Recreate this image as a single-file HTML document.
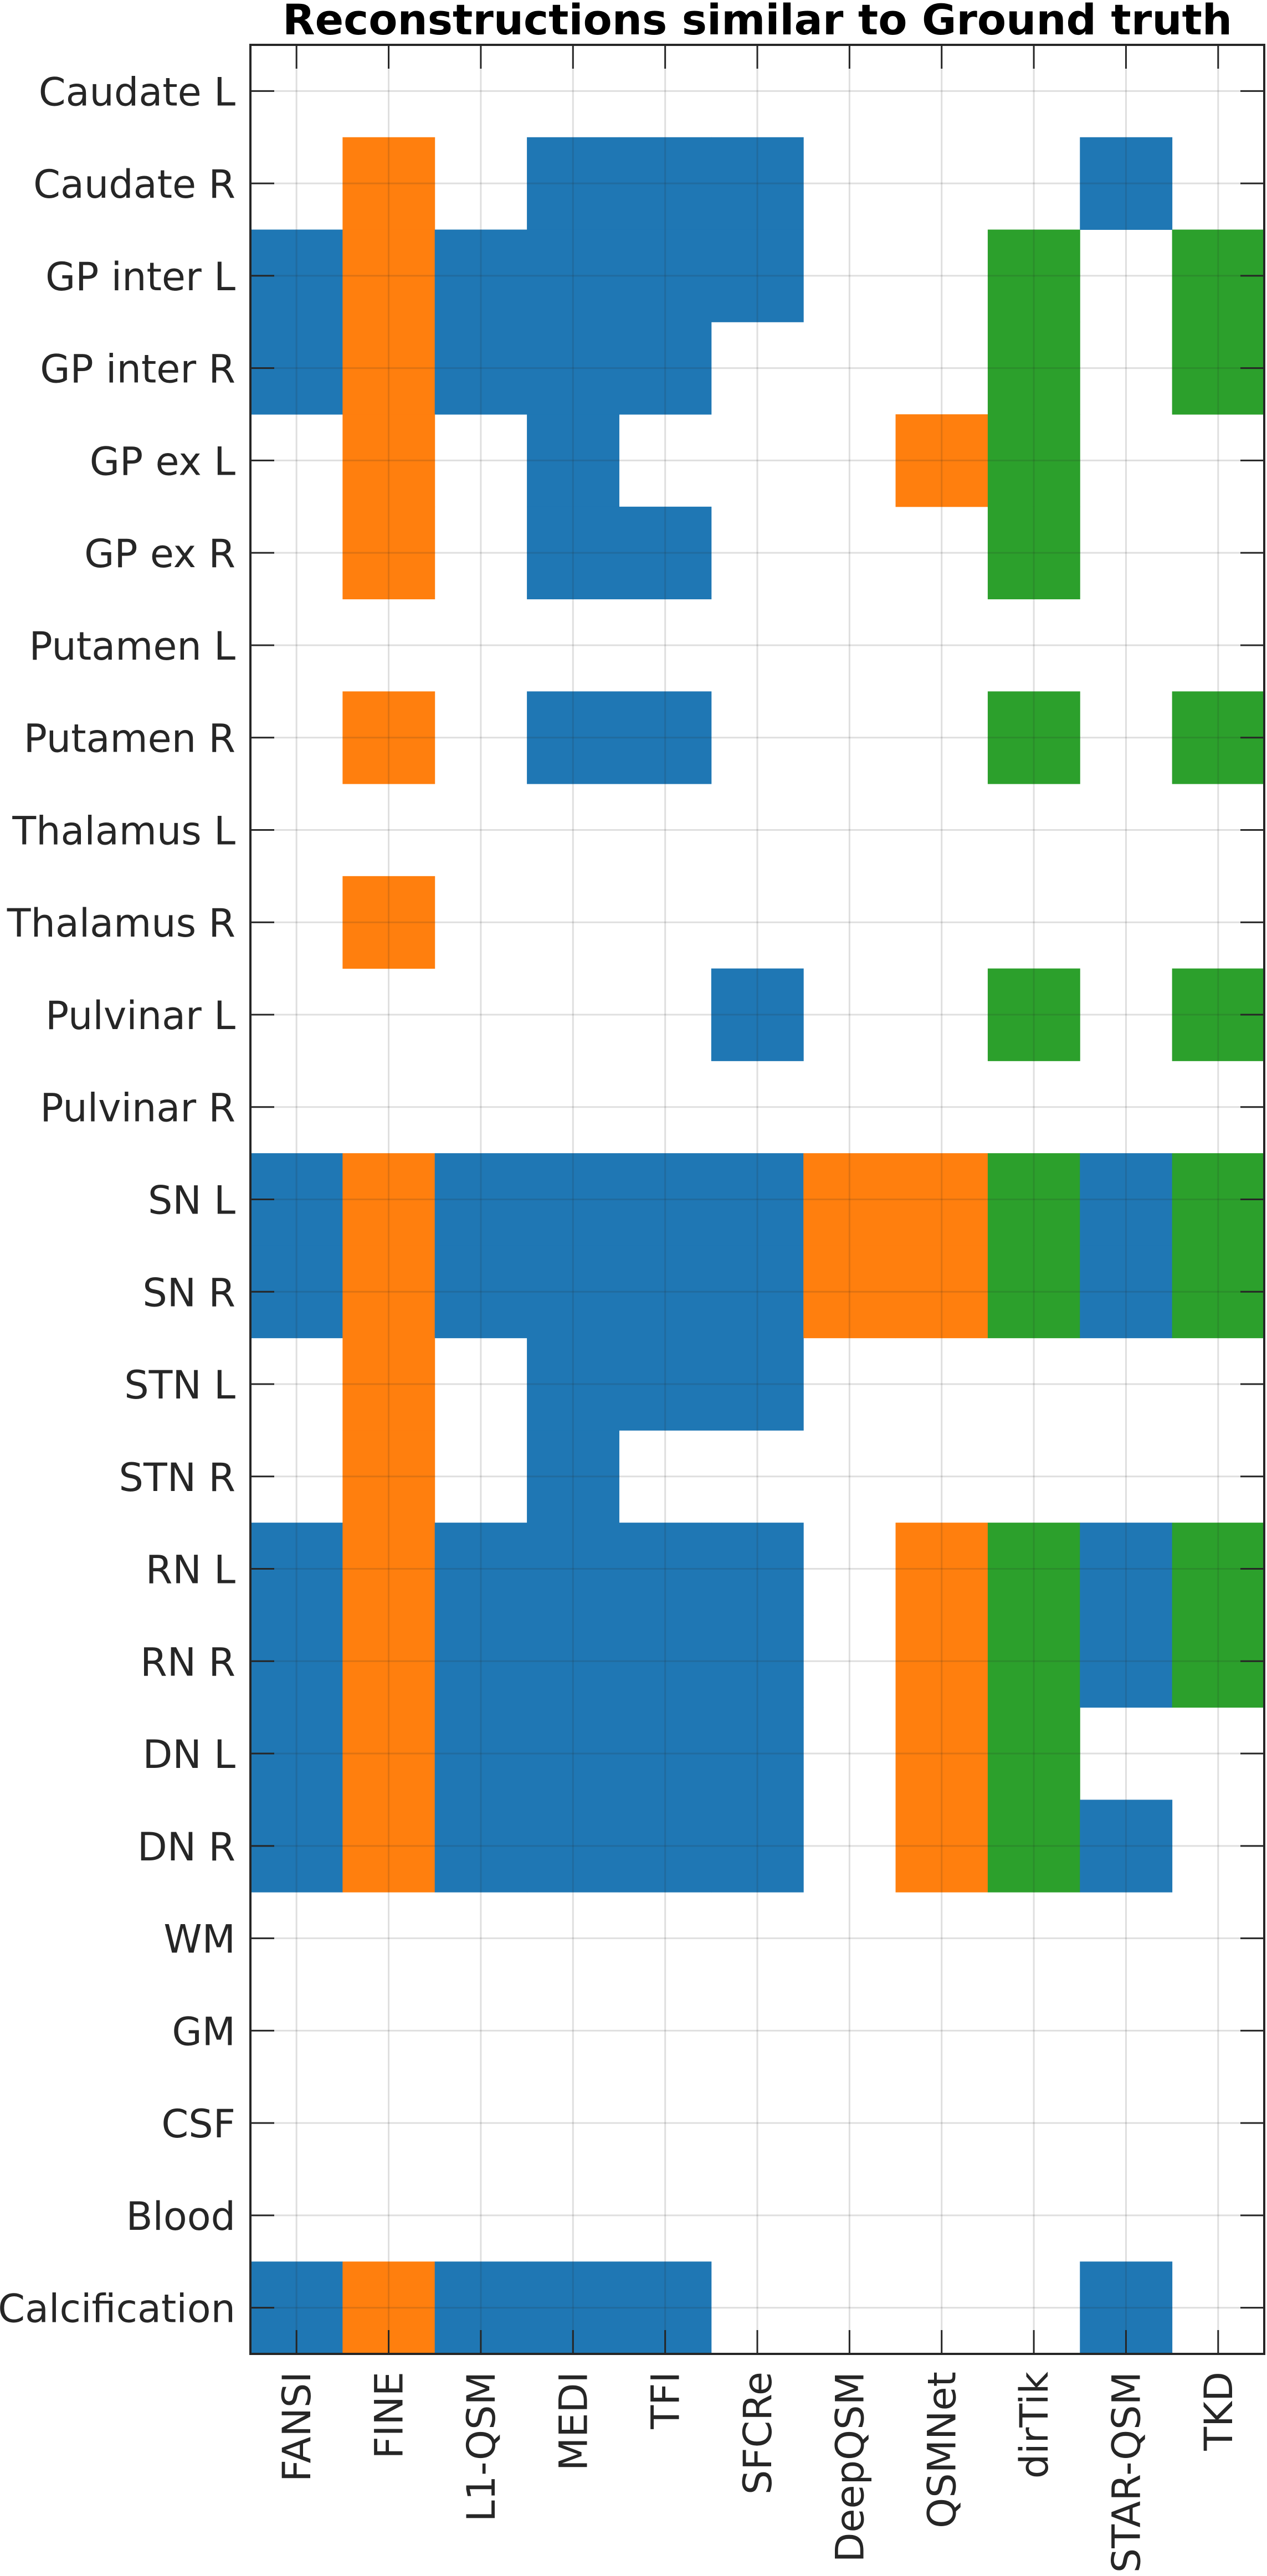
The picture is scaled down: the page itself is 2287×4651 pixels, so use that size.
<!DOCTYPE html>
<html><head><meta charset="utf-8"><style>
html,body{margin:0;padding:0;background:#fff;}
svg{display:block;}
text{font-family:"DejaVu Sans","Liberation Sans",sans-serif;fill:#262626;}
</style></head><body>
<svg id="chart" width="2287" height="4651" viewBox="0 0 2287 4651" xmlns="http://www.w3.org/2000/svg">
<text x="1367" y="62" text-anchor="middle" font-size="76" font-weight="bold" style="fill:#000" textLength="1714" lengthAdjust="spacingAndGlyphs">Reconstructions similar to Ground truth</text>
<g id="cells"></g><g id="grid"></g><g id="axes"></g>
</svg>
<script>
const methods = ["FANSI","FINE","L1-QSM","MEDI","TFI","SFCRe","DeepQSM","QSMNet","dirTik","STAR-QSM","TKD"];
const regions = ["Caudate L","Caudate R","GP inter L","GP inter R","GP ex L","GP ex R","Putamen L","Putamen R","Thalamus L","Thalamus R","Pulvinar L","Pulvinar R","SN L","SN R","STN L","STN R","RN L","RN R","DN L","DN R","WM","GM","CSF","Blood","Calcification"];
const methodColors = ["#1f77b4","#ff7f0e","#1f77b4","#1f77b4","#1f77b4","#1f77b4","#ff7f0e","#ff7f0e","#2ca02c","#1f77b4","#2ca02c"];
const similar = [
"00000000000",
"01011100010",
"11111100101",
"11111000101",
"01010001100",
"01011000100",
"00000000000",
"01011000101",
"00000000000",
"01000000000",
"00000100101",
"00000000000",
"11111111111",
"11111111111",
"01011100000",
"01010000000",
"11111101111",
"11111101111",
"11111101100",
"11111101110",
"00000000000",
"00000000000",
"00000000000",
"00000000000",
"11111000010"
];
const L=452,R=2282,T=81,B=4250;
const cw=(R-L)/methods.length, rh=(B-T)/regions.length;
const xs=i=>L+i*cw, ys=j=>T+j*rh;
const NS="http://www.w3.org/2000/svg";
function mk(tag,attrs,parent){const e=document.createElementNS(NS,tag);for(const k in attrs)e.setAttribute(k,attrs[k]);parent.appendChild(e);return e;}
const cells=document.getElementById('cells'),grid=document.getElementById('grid'),axes=document.getElementById('axes');
similar.forEach((row,j)=>{for(let i=0;i<methods.length;i++){if(row[i]==='1'){
 const r=mk('rect',{x:xs(i),y:ys(j),width:cw+0.5,height:rh+0.5,fill:methodColors[i]},cells);
 
 
}}});
methods.forEach((m,i)=>{const cx=xs(i)+cw/2;
 const g=mk('line',{x1:cx,y1:T,x2:cx,y2:B,stroke:'rgba(38,38,38,0.15)','stroke-width':3},grid);
 
 mk('line',{x1:cx,y1:T,x2:cx,y2:T+43,stroke:'#262626','stroke-width':3},axes);
 mk('line',{x1:cx,y1:B,x2:cx,y2:B-43,stroke:'#262626','stroke-width':3},axes);
 const t=mk('text',{x:0,y:0,'font-size':70,'text-anchor':'end',transform:`translate(${cx+25},${B+32}) rotate(-90)`},axes);
 t.textContent=m;
});
regions.forEach((r,j)=>{const cy=ys(j)+rh/2;
 const g=mk('line',{x1:L,y1:cy,x2:R,y2:cy,stroke:'rgba(38,38,38,0.15)','stroke-width':3},grid);
 
 mk('line',{x1:L,y1:cy,x2:L+43,y2:cy,stroke:'#262626','stroke-width':3},axes);
 mk('line',{x1:R,y1:cy,x2:R-43,y2:cy,stroke:'#262626','stroke-width':3},axes);
 const t=mk('text',{x:425,y:cy+26,'font-size':70,'text-anchor':'end'},axes);
 t.textContent=r;
});
const box=mk('rect',{x:L,y:T,width:R-L,height:B-T,fill:'none',stroke:'#262626','stroke-width':4},axes);

</script>
</body></html>
